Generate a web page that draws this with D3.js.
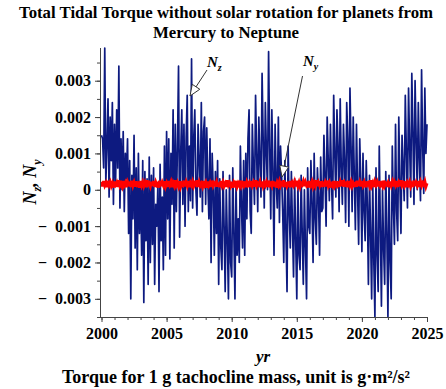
<!DOCTYPE html>
<html>
<head>
<meta charset="utf-8">
<title>Total Tidal Torque</title>
<script src="https://d3js.org/d3.v7.min.js"></script>
<style>
  body { margin: 0; background: #fff; }
  text { font-family: "Liberation Serif", "Times New Roman", serif; }
</style>
</head>
<body>
<div id="chart"></div>
<script>
// sampling: every month from 2000 to 2025
const startYear = 2000;
const stepYear = 1 / 12;

// N_z, in units of 1e-4 (one row per year)
const nz = [
  15, 14, 6, 39, 2, 12, 25, -2, 20, 8, 24, -4,
  18, 2, 22, 6, 34, -5, 14, 0, 16, -6, 10, 3,
  14, -12, 8, -30, 4, -8, 15, -16, 6, -22, 10, -12,
  2, -18, 8, -31, 5, -14, 3, -26, 9, -20, 4, -15,
  6, -26, -4, -10, 2, -28, 7, -14, -2, -22, 12, -18,
  16, -8, 14, -19, 10, -4, 22, -16, 18, -6, 12, 34,
  -13, 10, 22, -4, 18, -10, 14, 26, -6, 12, -3, 36,
  -5, 14, 22, 0, -7, 18, 8, -2, 24, -6, 16, 20,
  -4, 17, 2, -8, 14, -20, 10, 0, -18, 5, -12, 8,
  -26, 3, -16, -22, 5, -10, -28, 0, -14, -30, 4, -20,
  -24, 6, -12, -30, 2, -18, -8, -20, 12, -4, -16, 8,
  -18, 10, -8, 14, 22, -6, -12, 18, 6, -4, 26, 10,
  -6, 20, 8, -2, 32, 14, -5, 24, 10, 0, 38, 12,
  -8, 22, 6, -18, 18, 2, -5, 20, -9, 12, 4, -6,
  -20, 8, -12, -28, 12, -6, -16, 5, -10, -24, 3, -14,
  -30, 2, -18, -22, 4, -12, -26, 0, -16, -30, 6, -10,
  -12, 8, -4, -20, 10, -8, -15, 6, -2, -18, 9, -6,
  -5, 15, 4, -10, 20, 8, -3, 18, 2, -8, 26, 10,
  -2, 22, 12, -6, 25, 6, -4, 18, 8, -9, 24, 14,
  -10, 28, 12, -6, 20, 4, -11, 18, 0, -15, 14, 2,
  -17, 10, -6, -14, 8, -4, -26, 4, -12, -30, 2, -20,
  -35, 6, -18, -28, 12, -10, -32, 0, -16, -26, 5, -12,
  -35, 4, -20, -30, 12, -4, -15, 18, -6, -14, 20, 2,
  -12, 15, 6, -3, 26, 10, -5, 28, 12, -2, 32, 16,
  -4, 30, 14, 0, 24, 8, -3, 33, 12, -1, 28, 10,
  18
];

// N_y, in units of 1e-5
const ny = [
  22,9,24,12,19,7,25,13,21,10,
  18,6,23,14,20,8,26,11,17,9,
  24,12,19,7,22,15,18,8,25,11,
  20,9,23,13,17,6,24,12,21,10,
  19,7,26,14,18,9,22,11,24,8,
  21,13,17,6,25,10,20,12,23,9,
  18,8,24,14,22,7,19,11,26,12,
  20,10,23,8,17,13,25,9,21,11,
  24,7,19,12,22,10,18,14,26,8,
  21,11,17,9,24,13,20,6,23,12,
  19,8,25,11,18,14,22,9,20,7,
  24,12,21,10,17,8,26,13,19,11,
  22,6,20,14,24,9,18,12,25,10,
  17,11,23,7,21,13,19,8,24,12,
  20,9,26,11,18,14,22,7,23,10,
  19,12,21,8,25,13,17,10,24,9,
  22,6,20,12,23,11,18,14,26,8,
  21,10,17,13,24,7,19,12,22,9,
  25,11,20,8,18,14,23,10,21,12,
  17,7,24,13,22,9,19,11,26,10,
  20,12,23,8,18,14,21,9,25,11,
  19,6,22,13,24,10,17,12,23,8,
  21,11,26,9,20,14,18,7,24,12,
  22,10,19,13,17,8,25,11,21,9,
  24,12,20,7,23,14,18,10,26,11,
  19,8,22,13,21,9,24,12,17,10,
  25,11,18,14,20,7,23,12,22,9,
  21,13,24,8,19,10,26,12,18,11,
  23,7,20,14,22,9,17,13,25,10,
  20,12,24,8,21,11,19,14,23,9,
  18
];

const xTicks = [2000, 2005, 2010, 2015, 2020, 2025];
const yTicks = [-0.003, -0.002, -0.001, 0, 0.001, 0.002, 0.003];
const yTickLabels = ["\u2212\u20020.003", "\u2212\u20020.002", "\u2212\u20020.001", "0", "0.001", "0.002", "0.003"];

const titleLines = ["Total Tidal Torque without solar rotation for planets from", "Mercury to Neptune"];
const caption = "Torque for 1 g tachocline mass, unit is g\u00b7m\u00b2/s\u00b2";

const W = 446, H = 389;

const svg = d3.select("#chart").append("svg")
    .attr("width", W)
    .attr("height", H);

const x = d3.scaleLinear().domain([2000, 2025]).range([101.5, 427]);
const y = d3.scaleLinear().domain([-0.0035, 0.0039]).range([317, 48]);

const nzData = nz.map((v, i) => ({ t: startYear + i * stepYear, v: v * 1e-4 }));
const nyData = ny.map((v, i) => ({ t: startYear + i * stepYear, v: v * 1e-5 }));

// title
svg.append("g").selectAll("text")
    .data(titleLines)
    .enter().append("text")
    .attr("x", 226)
    .attr("y", (d, i) => 18 + i * 20)
    .attr("text-anchor", "middle")
    .attr("font-size", "16.8px")
    .attr("font-weight", "bold")
    .text(d => d);

// curves
const line = d3.line().x(d => x(d.t)).y(d => y(d.v));

svg.append("path")
    .datum(nzData)
    .attr("fill", "none")
    .attr("stroke", "#0d1a80")
    .attr("stroke-width", 1.7)
    .attr("stroke-linejoin", "round")
    .attr("d", line);

svg.append("path")
    .datum(nyData)
    .attr("fill", "none")
    .attr("stroke", "#ff0000")
    .attr("stroke-width", 3)
    .attr("d", line);

// axes
const axisColor = "#444";

const xAxis = svg.append("g")
    .attr("transform", "translate(0,317)")
    .call(d3.axisBottom(x).tickValues(xTicks).tickSize(5).tickPadding(6).tickFormat(d3.format("d")));
svg.append("g")
    .attr("transform", "translate(0,317)")
    .call(d3.axisBottom(x).tickValues(d3.range(2000, 2026, 1)).tickSize(3).tickFormat(""))
    .select(".domain").remove();

const yAxis = svg.append("g")
    .attr("transform", "translate(100,0)")
    .call(d3.axisLeft(y).tickValues(yTicks).tickSize(5).tickPadding(4)
        .tickFormat((d, i) => yTickLabels[i]));
svg.append("g")
    .attr("transform", "translate(100,0)")
    .call(d3.axisLeft(y).tickValues(d3.range(-7, 8).map(k => k * 0.0005)).tickSize(3).tickFormat(""))
    .select(".domain").remove();

svg.selectAll(".domain").attr("stroke", axisColor);
xAxis.select(".domain").attr("d", "M100,0.5H427");
yAxis.select(".domain").attr("d", "M0.5,48V317");
svg.selectAll(".tick line").attr("stroke", axisColor);
svg.selectAll(".tick text")
    .attr("font-size", "16px")
    .attr("font-weight", "bold")
    .attr("fill", "#000");

// axis titles
svg.append("text")
    .attr("x", 263)
    .attr("y", 362)
    .attr("text-anchor", "middle")
    .attr("font-size", "17px")
    .attr("font-weight", "bold")
    .attr("font-style", "italic")
    .text("yr");

const yl = svg.append("text")
    .attr("transform", "translate(36,182) rotate(-90)")
    .attr("text-anchor", "middle")
    .attr("font-size", "18px")
    .attr("font-weight", "bold")
    .attr("font-style", "italic");
yl.append("tspan").text("N");
yl.append("tspan").attr("dy", 5).attr("font-size", "12px").text("z");
yl.append("tspan").attr("dy", -5).text(", N");
yl.append("tspan").attr("dy", 5).attr("font-size", "12px").text("y");

svg.append("text")
    .attr("x", 236)
    .attr("y", 383)
    .attr("text-anchor", "middle")
    .attr("font-size", "18px")
    .attr("font-weight", "bold")
    .text(caption);

// arrows with labels
function label(tx, ty, sub, x1, y1, x2, y2) {
    const t = svg.append("text")
        .attr("x", tx).attr("y", ty)
        .attr("font-size", "15px")
        .attr("font-weight", "bold")
        .attr("font-style", "italic");
    t.append("tspan").text("N");
    t.append("tspan").attr("dy", 4).attr("font-size", "10px").text(sub);

    svg.append("line")
        .attr("x1", x1).attr("y1", y1).attr("x2", x2).attr("y2", y2)
        .attr("stroke", "#333").attr("stroke-width", 1);
    const ang = Math.atan2(y2 - y1, x2 - x1);
    const len = 11, half = 4.5;
    const bx = x2 - len * Math.cos(ang), by = y2 - len * Math.sin(ang);
    const px = -Math.sin(ang) * half, py = Math.cos(ang) * half;
    svg.append("path")
        .attr("d", `M${x2},${y2}L${bx + px},${by + py}L${bx - px},${by - py}Z`)
        .attr("fill", "#fff").attr("stroke", "#333").attr("stroke-width", 1);
}
label(207, 67, "z", 207, 70, 190, 96);
label(303, 66, "y", 302.5, 76, 282, 177);
</script>
</body>
</html>
